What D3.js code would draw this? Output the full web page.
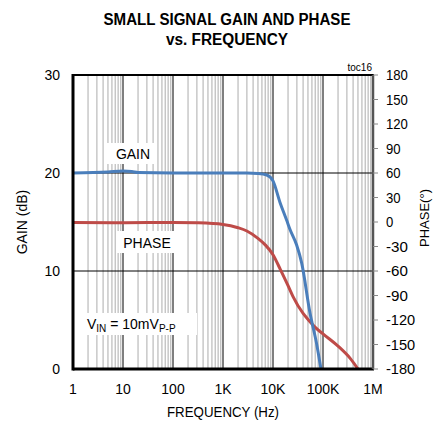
<!DOCTYPE html>
<html>
<head>
<meta charset="utf-8">
<script src="https://cdn.jsdelivr.net/npm/d3@7"></script>
<style>
  body { margin: 0; background: #fff; }
  svg { display: block; }
  text { font-family: "Liberation Sans Narrow", "Arial Narrow", "Liberation Sans", Arial, sans-serif; fill: #000; }
</style>
</head>
<body>
<svg id="chart" width="433" height="428"></svg>
<script>
// gain (dB) vs frequency (Hz)
const gainFreq = [1, 5, 10, 15, 20, 100, 1000, 3000, 5000, 7500, 10000, 13800, 18700, 22000, 29700, 37500, 55000, 75000, 91000];
const gainDb   = [20.0, 20.1, 20.2, 20.15, 20.05, 20.0, 20.0, 20.0, 19.95, 19.8, 19.2, 17.0, 15.2, 14.2, 12.65, 10.8, 5.7, 2.5, 0];

// phase (deg) vs frequency (Hz)
const phaseFreq = [1, 10, 100, 300, 1000, 2000, 3000, 5000, 7000, 10000, 14000, 20000, 25000, 40000, 55000, 70000, 100000, 200000, 350000, 500000];
const phaseDeg  = [-0.5, -1, -0.5, -1, -3, -7, -11, -20, -28, -40, -58, -78, -91, -112, -122, -129, -137, -152, -167, -180];

const decadeTicks = [1, 10, 100, 1e3, 1e4, 1e5, 1e6];
const decadeLabels = ['1', '10', '100', '1K', '10K', '100K', '1M'];
const gainTicks = [0, 10, 20, 30];
const phaseTicks = d3.range(-180, 181, 30);

const margin = { left: 73, right: 373, top: 75, bottom: 369 };

const svg = d3.select('#chart');

const x = d3.scaleLog().domain([1, 1e6]).range([margin.left, margin.right]);
const yGain = d3.scaleLinear().domain([0, 30]).range([margin.bottom, margin.top]);
const yPhase = d3.scaleLinear().domain([-180, 180]).range([margin.bottom, margin.top]);

// minor grid
const minor = [];
for (let d = 1; d < 1e6; d *= 10) {
  for (let k = 2; k <= 9; k++) minor.push(d * k);
}
svg.append('g')
  .selectAll('line')
  .data(minor)
  .join('line')
  .attr('x1', (d) => x(d)).attr('x2', (d) => x(d))
  .attr('y1', margin.top).attr('y2', margin.bottom)
  .attr('stroke', '#c4c4c4')
  .attr('stroke-width', 1.4);

// major grid
svg.append('g')
  .selectAll('line')
  .data(decadeTicks.slice(1, -1))
  .join('line')
  .attr('x1', (d) => x(d)).attr('x2', (d) => x(d))
  .attr('y1', margin.top).attr('y2', margin.bottom)
  .attr('stroke', '#000')
  .attr('stroke-width', 1);

svg.append('g')
  .selectAll('line')
  .data([10, 20])
  .join('line')
  .attr('x1', margin.left).attr('x2', margin.right)
  .attr('y1', (d) => yGain(d)).attr('y2', (d) => yGain(d))
  .attr('stroke', '#000')
  .attr('stroke-width', 1);

// white boxes behind labels
const boxes = [
  { x: 105, y: 143, w: 50, h: 21 },
  { x: 117, y: 231, w: 62, h: 22 },
  { x: 85, y: 313, w: 112, h: 22 }
];
svg.append('g')
  .selectAll('rect')
  .data(boxes)
  .join('rect')
  .attr('x', (d) => d.x).attr('y', (d) => d.y)
  .attr('width', (d) => d.w).attr('height', (d) => d.h)
  .attr('fill', '#fff');

// curves
const gainLine = d3.line()
  .x((d, i) => x(gainFreq[i]))
  .y((d) => yGain(d))
  .curve(d3.curveMonotoneX);
const phaseLine = d3.line()
  .x((d, i) => x(phaseFreq[i]))
  .y((d) => yPhase(d))
  .curve(d3.curveMonotoneX);

svg.append('path')
  .attr('d', phaseLine(phaseDeg))
  .attr('fill', 'none')
  .attr('stroke', '#be4b48')
  .attr('stroke-width', 3);
svg.append('path')
  .attr('d', gainLine(gainDb))
  .attr('fill', 'none')
  .attr('stroke', '#4a7ebb')
  .attr('stroke-width', 3);

// frame
svg.append('rect')
  .attr('x', margin.left).attr('y', margin.top)
  .attr('width', margin.right - margin.left)
  .attr('height', margin.bottom - margin.top)
  .attr('fill', 'none')
  .attr('stroke', '#000')
  .attr('stroke-width', 2);
svg.append('line')
  .attr('x1', margin.left).attr('x2', margin.left)
  .attr('y1', margin.top - 1).attr('y2', margin.bottom + 1.5)
  .attr('stroke', '#000').attr('stroke-width', 3);
svg.append('line')
  .attr('x1', margin.left).attr('x2', margin.right + 1)
  .attr('y1', margin.bottom).attr('y2', margin.bottom)
  .attr('stroke', '#000').attr('stroke-width', 3);
svg.append('line')
  .attr('x1', margin.right).attr('x2', margin.right)
  .attr('y1', margin.top).attr('y2', margin.bottom)
  .attr('stroke', '#555').attr('stroke-width', 2.5);

// right ticks
svg.append('g')
  .selectAll('line')
  .data(phaseTicks)
  .join('line')
  .attr('x1', margin.right).attr('x2', margin.right + 5)
  .attr('y1', (d) => yPhase(d)).attr('y2', (d) => yPhase(d))
  .attr('stroke', '#888')
  .attr('stroke-width', 1);

// axis labels
svg.append('g')
  .selectAll('text')
  .data(gainTicks)
  .join('text')
  .attr('x', 60)
  .attr('y', (d) => yGain(d) + 5)
  .attr('text-anchor', 'end')
  .attr('font-size', 14)
  .text((d) => d);

svg.append('g')
  .selectAll('text')
  .data(phaseTicks)
  .join('text')
  .attr('x', 386)
  .attr('y', (d) => yPhase(d) + 5)
  .attr('font-size', 14)
  .attr('textLength', (d) => String(d).length * 7.3)
  .attr('lengthAdjust', 'spacingAndGlyphs')
  .text((d) => d);

svg.append('g')
  .selectAll('text')
  .data(decadeTicks)
  .join('text')
  .attr('x', (d) => x(d))
  .attr('y', 394)
  .attr('text-anchor', 'middle')
  .attr('font-size', 14)
  .text((d, i) => decadeLabels[i]);

svg.append('text')
  .attr('x', 223).attr('y', 417)
  .attr('text-anchor', 'middle')
  .attr('font-size', 14)
  .attr('textLength', 112)
  .attr('lengthAdjust', 'spacingAndGlyphs')
  .text('FREQUENCY (Hz)');

svg.append('text')
  .attr('transform', 'translate(27,222) rotate(-90)')
  .attr('text-anchor', 'middle')
  .attr('font-size', 14)
  .text('GAIN (dB)');

svg.append('text')
  .attr('transform', 'translate(429,218) rotate(-90)')
  .attr('text-anchor', 'middle')
  .attr('font-size', 13)
  .text('PHASE(°)');

// title
svg.append('text')
  .attr('x', 227).attr('y', 25)
  .attr('text-anchor', 'middle')
  .attr('font-size', 16)
  .attr('font-weight', 'bold')
  .attr('textLength', 247)
  .attr('lengthAdjust', 'spacingAndGlyphs')
  .text('SMALL SIGNAL GAIN AND PHASE');
svg.append('text')
  .attr('x', 227).attr('y', 45)
  .attr('text-anchor', 'middle')
  .attr('font-size', 16)
  .attr('font-weight', 'bold')
  .attr('textLength', 122)
  .attr('lengthAdjust', 'spacingAndGlyphs')
  .text('vs. FREQUENCY');

svg.append('text')
  .attr('x', 372).attr('y', 71)
  .attr('text-anchor', 'end')
  .attr('font-size', 10)
  .text('toc16');

// in-plot labels
svg.append('text')
  .attr('x', 133).attr('y', 159)
  .attr('text-anchor', 'middle')
  .attr('font-size', 14)
  .text('GAIN');
svg.append('text')
  .attr('x', 147).attr('y', 248)
  .attr('text-anchor', 'middle')
  .attr('font-size', 14)
  .text('PHASE');

const vin = svg.append('text')
  .attr('x', 87).attr('y', 329)
  .attr('font-size', 14);
vin.append('tspan').text('V');
vin.append('tspan').attr('font-size', 10).attr('dy', 3).text('IN');
vin.append('tspan').attr('dy', -3).text(' = 10mV');
vin.append('tspan').attr('font-size', 10).attr('dy', 3).text('P-P');
</script>
</body>
</html>
